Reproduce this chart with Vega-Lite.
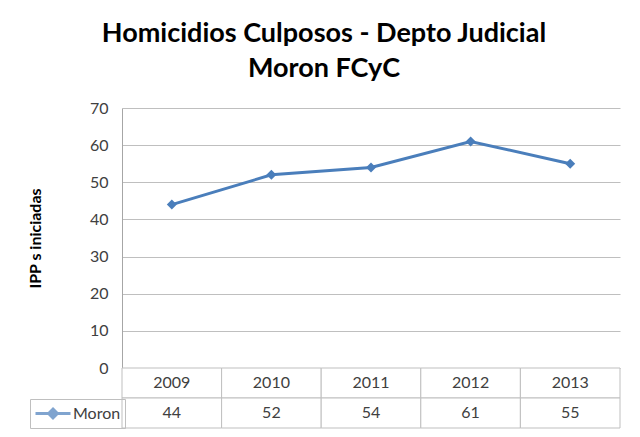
{
  "$schema": "https://vega.github.io/schema/vega-lite/v6.json",
  "padding": {"left": 27, "top": 20, "right": 18, "bottom": 8},
  "background": "white",
  "bounds": "flush",
  "title": {
    "text": ["Homicidios Culposos - Depto Judicial", "Moron FCyC"],
    "font": "Lato",
    "fontSize": 27,
    "fontWeight": "bold",
    "lineHeight": 35,
    "color": "#000000",
    "anchor": "middle",
    "offset": 17
  },
  "datasets": {
    "moron": [
      {"year": "2009", "value": 44, "series": "Moron"},
      {"year": "2010", "value": 52, "series": "Moron"},
      {"year": "2011", "value": 54, "series": "Moron"},
      {"year": "2012", "value": 61, "series": "Moron"},
      {"year": "2013", "value": 55, "series": "Moron"}
    ]
  },
  "spacing": 0,
  "vconcat": [
    {
      "width": 498,
      "height": 260,
      "data": {"name": "moron"},
      "encoding": {
        "x": {
          "field": "year",
          "type": "ordinal",
          "scale": {"type": "band", "paddingInner": 0, "paddingOuter": 0},
          "axis": null
        },
        "y": {
          "field": "value",
          "type": "quantitative",
          "scale": {"domain": [0, 70]},
          "axis": {
            "values": [0, 10, 20, 30, 40, 50, 60, 70],
            "title": "IPP s iniciadas",
            "titleFont": "Lato",
            "titleFontSize": 16,
            "titleFontWeight": "bold",
            "titleColor": "#000000",
            "titlePadding": 46,
            "labelFont": "Lato",
            "labelFontSize": 16,
            "labelColor": "#404040",
            "labelPadding": 14,
            "ticks": false,
            "domainColor": "#A6A6A6",
            "gridColor": "#BFBFBF",
            "gridWidth": 1
          }
        }
      },
      "layer": [
        {"mark": {"type": "line", "color": "#4A7EBB", "strokeWidth": 3}},
        {"mark": {"type": "point", "shape": "diamond", "filled": true, "size": 100, "opacity": 1, "color": "#4A7EBB"}}
      ]
    },
    {
      "width": 498,
      "height": 60,
      "layer": [
        {
          "data": {"name": "moron"},
          "mark": {"type": "rect", "fill": "white", "stroke": "#BFBFBF", "strokeWidth": 1},
          "encoding": {
            "y": {"datum": "header"}
          }
        },
        {
          "data": {"name": "moron"},
          "mark": {"type": "rect", "fill": "white", "stroke": "#BFBFBF", "strokeWidth": 1},
          "encoding": {
            "y": {"datum": "Moron"}
          }
        },
        {
          "data": {"name": "moron"},
          "mark": {"type": "text", "font": "Lato", "fontSize": 16, "color": "#404040"},
          "encoding": {
            "y": {"datum": "header"},
            "text": {"field": "year"}
          }
        },
        {
          "data": {"name": "moron"},
          "mark": {"type": "text", "font": "Lato", "fontSize": 16, "color": "#404040"},
          "encoding": {
            "y": {"datum": "Moron"},
            "text": {"field": "value"}
          }
        },
        {
          "data": {"values": []},
          "mark": {"type": "point", "filled": true, "stroke": "#4A7EBB", "strokeWidth": 3},
          "encoding": {
            "y": {"datum": "Moron"},
            "color": {
              "field": "series",
              "type": "nominal",
              "scale": {"domain": ["Moron"], "range": ["#4A7EBB"]},
              "legend": {
                "title": null,
                "orient": "none",
                "legendX": -92,
                "legendY": 291,
                "symbolType": "M-1,0L1,0M0,-0.25L0.25,0L0,0.25L-0.25,0Z",
                "symbolSize": 1225,
                "symbolStrokeColor": "#4A7EBB",
                "symbolFillColor": "#4A7EBB",
                "symbolStrokeWidth": 3,
                "clipHeight": 21,
                "padding": 4,
                "strokeColor": "#BFBFBF",
                "labelFont": "Lato",
                "labelFontSize": 16,
                "labelColor": "#404040",
                "labelOffset": 1
              }
            }
          }
        }
      ],
      "encoding": {
        "x": {
          "field": "year",
          "type": "ordinal",
          "scale": {"type": "band", "paddingInner": 0, "paddingOuter": 0},
          "axis": null
        },
        "y": {
          "type": "nominal",
          "scale": {"type": "band", "domain": ["header", "Moron"], "paddingInner": 0, "paddingOuter": 0},
          "axis": null
        }
      }
    }
  ],
  "config": {"view": {"stroke": null}}
}
